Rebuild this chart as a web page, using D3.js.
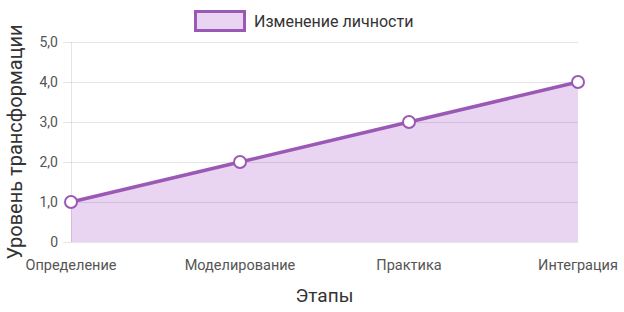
<!DOCTYPE html>
<html><head><meta charset="utf-8">
<script src="https://cdn.jsdelivr.net/npm/d3@7"></script>
<style>body{margin:0;background:#fff}svg{display:block;font-family:Roboto,sans-serif}</style>
</head><body><svg id="c" width="624" height="312"></svg>
<script>
const categories = ["Определение","Моделирование","Практика","Интеграция"];
const values = [1,2,3,4];
const yTicks = [0,1,2,3,4,5];
const seriesName = "Изменение личности";
const xTitle = "Этапы";
const yTitle = "Уровень трансформации";

const svg = d3.select("#c");
const m = {l:71, r:578, t:42, b:242};
const x = d3.scalePoint().domain(categories).range([m.l, m.r]);
const y = d3.scaleLinear().domain([0,5]).range([m.b, m.t]);
const col = "#9b59b6";
const fill = "rgba(168,86,200,0.25)";

// area
svg.append("path").datum(values)
  .attr("d", d3.area().x((d,i)=>x(categories[i])).y0(y(0)).y1(d=>y(d)))
  .attr("fill",fill);

// grid
svg.append("g").selectAll("line").data(yTicks).join("line")
  .attr("x1", m.l-8).attr("x2", m.r).attr("y1", d=>y(d)+0.5).attr("y2", d=>y(d)+0.5)
  .attr("stroke","rgba(0,0,0,0.1)");
svg.append("line").attr("x1",m.l+0.5).attr("x2",m.l+0.5).attr("y1",m.t).attr("y2",m.b).attr("stroke","rgba(0,0,0,0.1)");

// y labels
svg.append("g").selectAll("text").data(yTicks).join("text")
  .attr("x", m.l-13).attr("y", d=>y(d)).attr("dy","0.35em").attr("text-anchor","end")
  .attr("font-size",14).attr("fill","#555")
  .text(d=> d===0 ? "0" : d.toFixed(1).replace(".",","));
// x labels
svg.append("g").selectAll("text").data(categories).join("text")
  .attr("x", d=>x(d)).attr("y", 270).attr("text-anchor","middle")
  .attr("font-size",14.5).attr("fill","#555").text(d=>d);

svg.append("path").datum(values)
  .attr("d", d3.line().x((d,i)=>x(categories[i])).y(d=>y(d)))
  .attr("fill","none").attr("stroke",col).attr("stroke-width",3.5);
svg.append("g").selectAll("circle").data(values).join("circle")
  .attr("cx",(d,i)=>x(categories[i])).attr("cy",d=>y(d)).attr("r",6)
  .attr("fill","#fff").attr("stroke",col).attr("stroke-width",2);

// titles
svg.append("text").attr("x",(m.l+m.r)/2).attr("y",302).attr("text-anchor","middle")
  .attr("font-size",19).attr("fill","#333").text(xTitle);
svg.append("text").attr("transform",`translate(22,${(m.t+m.b)/2}) rotate(-90)`)
  .attr("text-anchor","middle").attr("font-size",20).attr("fill","#333").text(yTitle);

// legend
svg.append("rect").attr("x",195.5).attr("y",11.5).attr("width",49).attr("height",19)
  .attr("fill",fill).attr("stroke",col).attr("stroke-width",3);
svg.append("text").attr("x",254).attr("y",21).attr("dy","0.35em").attr("font-size",16)
  .attr("fill","#333").text(seriesName);
</script></body></html>
